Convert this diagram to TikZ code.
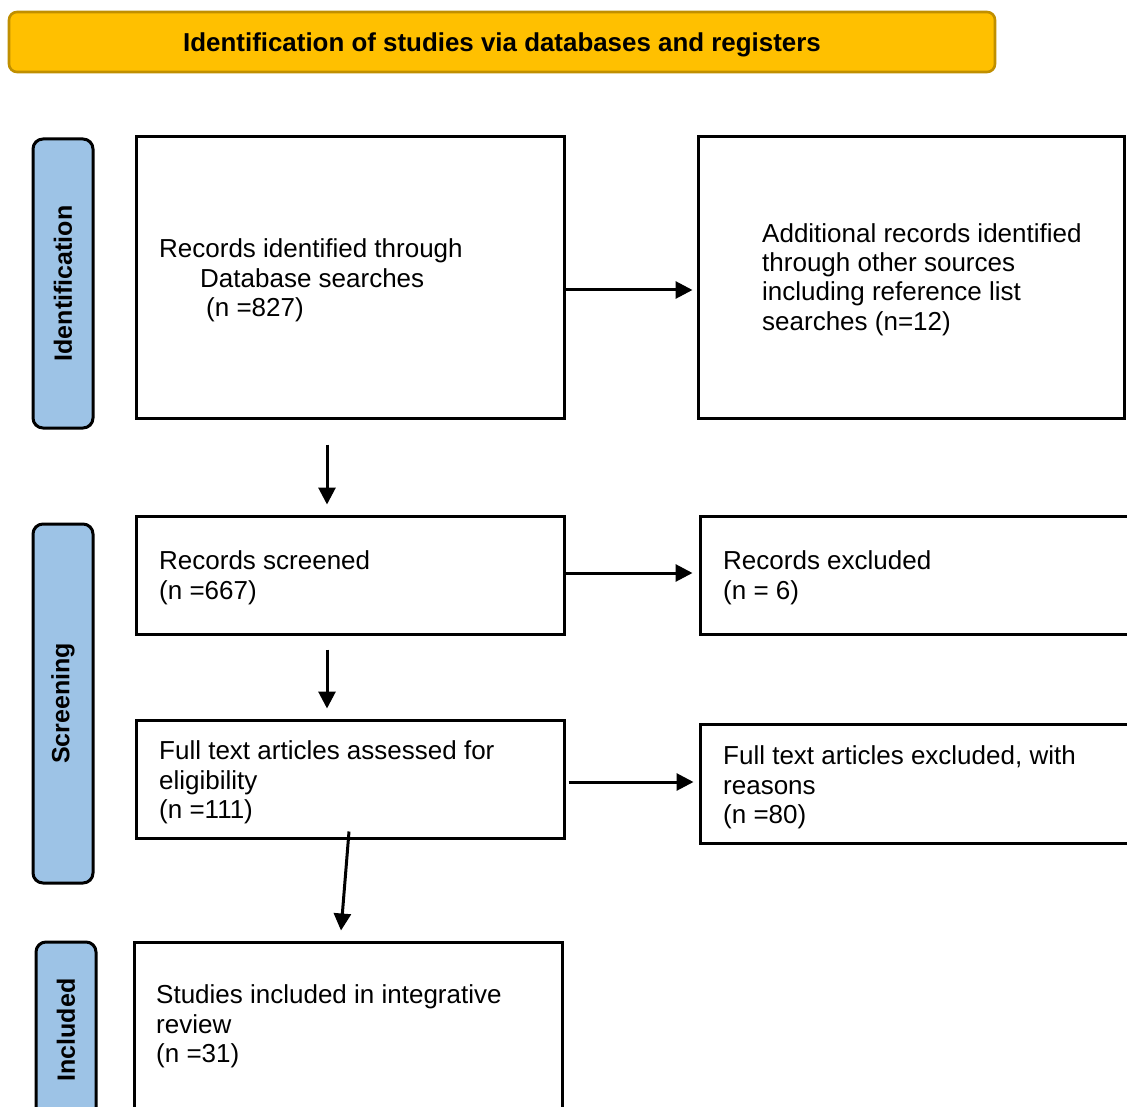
\documentclass[tikz,border=0pt]{standalone}
\usepackage{fontspec}
\setmainfont{Liberation Sans}
\usetikzlibrary{arrows.meta,calc}
\definecolor{hdrfill}{HTML}{FFC000}
\definecolor{hdrline}{HTML}{C08F00}
\definecolor{sideblue}{HTML}{9DC3E6}
\begin{document}
\begin{tikzpicture}[x=1pt,y=-1pt,
  box/.style={draw=black,line width=3pt,rectangle,inner sep=0pt},
  sidelab/.style={draw=black,line width=3pt,fill=sideblue,rounded corners=10pt,inner sep=0pt,
    rotate=90,minimum height=60pt,font=\fontsize{25}{29}\selectfont\bfseries},
  txt/.style={font=\fontsize{26}{29.5}\selectfont,align=left,inner sep=0pt,anchor=base west},
  arr/.style={line width=3pt,-{Triangle[length=17pt,width=17pt]}}]
\path[use as bounding box,clip] (0,0) rectangle (1127,1107);
\fill[white] (0,0) rectangle (1127,1107);

% header
\node[draw=hdrline,fill=hdrfill,line width=2.6pt,rounded corners=8pt,minimum width=986pt,minimum height=60pt,
  inner sep=0pt,text height=18.6pt,text depth=0pt,font=\fontsize{25.9}{29}\selectfont\bfseries] (hdr) at (502,42)
  {Identification of studies via databases and registers};

% side labels
\node[sidelab,minimum width=289pt] (lid) at (63,283.5) {Identification};
\node[sidelab,minimum width=359pt] (lsc) at (63,703.5) {Screening};
\node[sidelab,minimum width=176pt] (lin) at (66,1030) {Included};

% boxes
\node[box,minimum width=428pt,minimum height=281pt] (A) at (350,277.5) {};
\node[box,minimum width=426pt,minimum height=281pt] (B) at (911,277.5) {};
\node[box,minimum width=428pt,minimum height=118pt] (C) at (350,575) {};
\node[box,minimum width=428pt,minimum height=118pt] (D) at (914,575) {};
\node[box,minimum width=428pt,minimum height=118pt] (E) at (350,779) {};
\node[box,minimum width=428pt,minimum height=119pt] (F) at (914,783.5) {};
\node[box,minimum width=428pt,minimum height=178pt] (G) at (348,1031) {};

% texts (anchor = baseline of last line)
\node[txt] (tA) at (159,316.5) {Records identified through\\\hspace*{41pt}Database searches\\\hspace*{47pt}(n =827)};
\node[txt] (tB) at (762,330.5) {Additional records identified\\through other sources\\including reference list\\searches (n=12)};
\node[txt] (tC) at (159,599) {Records screened\\(n =667)};
\node[txt] (tD) at (723,599) {Records excluded\\(n = 6)};
\node[txt] (tE) at (159,818.5) {Full text articles assessed for\\eligibility\\(n =111)};
\node[txt] (tF) at (723,823.5) {Full text articles excluded, with\\reasons\\(n =80)};
\node[txt] (tG) at (156,1062.5) {Studies included in integrative\\review\\(n =31)};

% connectors
\draw[arr,shorten >=4pt] ($(A.east)+(0,12.5)$) -- ($(B.west)+(0,12.5)$);
\draw[arr,shorten >=6pt] ($(C.east)+(0,-2)$) -- ($(D.west)+(0,-2)$);
\draw[arr,shorten >=5pt] ($(E.east)+(3,3)$) -- ($(F.west)+(0,-1.5)$);
\draw[arr] ($(A.south)+(-23,25)$) -- ($(C.north)+(-23,-10)$);
\draw[arr] ($(C.south)+(-23,14)$) -- ($(E.north)+(-23,-10)$);
\draw[arr] ($(E.south)+(-1,-8)$) -- ($(G.north)+(-7,-10)$);
\end{tikzpicture}
\end{document}
